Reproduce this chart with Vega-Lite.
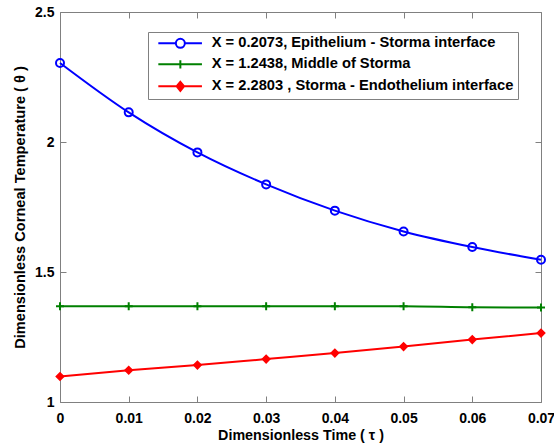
{
  "$schema": "https://vega.github.io/schema/vega-lite/v6.json",
  "width": 481,
  "height": 390,
  "autosize": "none",
  "padding": {"left": 60, "top": 12, "right": 13, "bottom": 46},
  "background": "white",
  "config": {
    "view": {"stroke": null},
    "font": "Liberation Sans",
    "axis": {
      "domainColor": "#808080",
      "tickColor": "#808080",
      "grid": false,
      "labelFont": "Liberation Sans",
      "labelFontSize": 14,
      "labelFontWeight": "bold",
      "labelColor": "black",
      "titleFont": "Liberation Sans",
      "titleFontSize": 14.3,
      "titleFontWeight": "bold",
      "titleColor": "black",
      "tickSize": -6,
      "domainWidth": 1,
      "tickWidth": 1
    }
  },
  "data": {
    "values": [
      {"t": 0.00, "theta": 2.304, "series": "X = 0.2073, Epithelium - Storma interface"},
      {"t": 0.01, "theta": 2.114, "series": "X = 0.2073, Epithelium - Storma interface"},
      {"t": 0.02, "theta": 1.960, "series": "X = 0.2073, Epithelium - Storma interface"},
      {"t": 0.03, "theta": 1.837, "series": "X = 0.2073, Epithelium - Storma interface"},
      {"t": 0.04, "theta": 1.736, "series": "X = 0.2073, Epithelium - Storma interface"},
      {"t": 0.05, "theta": 1.656, "series": "X = 0.2073, Epithelium - Storma interface"},
      {"t": 0.06, "theta": 1.596, "series": "X = 0.2073, Epithelium - Storma interface"},
      {"t": 0.07, "theta": 1.547, "series": "X = 0.2073, Epithelium - Storma interface"},
      {"t": 0.00, "theta": 1.368, "series": "X = 1.2438, Middle of Storma"},
      {"t": 0.01, "theta": 1.368, "series": "X = 1.2438, Middle of Storma"},
      {"t": 0.02, "theta": 1.368, "series": "X = 1.2438, Middle of Storma"},
      {"t": 0.03, "theta": 1.368, "series": "X = 1.2438, Middle of Storma"},
      {"t": 0.04, "theta": 1.368, "series": "X = 1.2438, Middle of Storma"},
      {"t": 0.05, "theta": 1.368, "series": "X = 1.2438, Middle of Storma"},
      {"t": 0.06, "theta": 1.364, "series": "X = 1.2438, Middle of Storma"},
      {"t": 0.07, "theta": 1.363, "series": "X = 1.2438, Middle of Storma"},
      {"t": 0.00, "theta": 1.098, "series": "X = 2.2803 , Storma - Endothelium interface"},
      {"t": 0.01, "theta": 1.122, "series": "X = 2.2803 , Storma - Endothelium interface"},
      {"t": 0.02, "theta": 1.142, "series": "X = 2.2803 , Storma - Endothelium interface"},
      {"t": 0.03, "theta": 1.165, "series": "X = 2.2803 , Storma - Endothelium interface"},
      {"t": 0.04, "theta": 1.188, "series": "X = 2.2803 , Storma - Endothelium interface"},
      {"t": 0.05, "theta": 1.213, "series": "X = 2.2803 , Storma - Endothelium interface"},
      {"t": 0.06, "theta": 1.240, "series": "X = 2.2803 , Storma - Endothelium interface"},
      {"t": 0.07, "theta": 1.265, "series": "X = 2.2803 , Storma - Endothelium interface"}
    ]
  },
  "layer": [
    {
      "mark": {"type": "line", "strokeWidth": 2, "interpolate": "monotone"},
      "encoding": {
        "x": {"field": "t", "type": "quantitative", "scale": {"domain": [0, 0.07], "nice": false, "zero": false},
              "axis": {"orient": "bottom", "values": [0, 0.01, 0.02, 0.03, 0.04, 0.05, 0.06, 0.07], "format": "~g", "labelPadding": 15, "labelFlush": false, "title": "Dimensionless Time ( τ )", "titlePadding": 3}},
        "y": {"field": "theta", "type": "quantitative", "scale": {"domain": [1, 2.5], "nice": false, "zero": false},
              "axis": {"orient": "left", "values": [1, 1.5, 2, 2.5], "format": "~g", "labelPadding": 12, "title": "Dimensionless Corneal Temperature ( θ )", "titleFontSize": 14.6, "titlePadding": 7}},
        "color": {"field": "series", "type": "nominal",
                  "scale": {"domain": ["X = 0.2073, Epithelium - Storma interface", "X = 1.2438, Middle of Storma", "X = 2.2803 , Storma - Endothelium interface"], "range": ["#0000ff", "#008000", "#ff0000"]},
                  "legend": {
                    "orient": "none", "legendX": 88, "legendY": 20, "title": null,
                    "strokeColor": "#808080", "fillColor": "white", "padding": 4,
                    "labelFont": "Liberation Sans", "labelFontWeight": "bold", "labelFontSize": 14.7, "labelColor": "black", "labelLimit": 600,
                    "labelExpr": "datum.label + '\u00a0'",
                    "symbolSize": 144, "rowPadding": 4, "labelOffset": 45, "symbolStrokeWidth": 2,
                    "encode": {
                      "symbols": {
                        "update": {
                          "shape": {"signal": "indexof(datum.value,'Epithelium')>=0 ? 'M-0.17,0H2.75M4.25,0H7.1M2.75,0A0.75,0.75 0 1,1 4.25,0A0.75,0.75 0 1,1 2.75,0Z' : (indexof(datum.value,'Middle')>=0 ? 'M-0.17,0H7.1M3.5,-0.7V0.7' : 'M-0.17,0H7.1M3.5,-0.75L4.12,0L3.5,0.75L2.88,0Z')"},
                          "fill": {"signal": "indexof(datum.value,'Endothelium')>=0 ? '#ff0000' : 'transparent'"},
                          "stroke": {"signal": "indexof(datum.value,'Epithelium')>=0 ? '#0000ff' : (indexof(datum.value,'Middle')>=0 ? '#008000' : '#ff0000')"},
                          "strokeWidth": {"value": 2},
                          "opacity": {"value": 1}
                        }
                      }
                    }
                  }}
      }
    },
    {
      "transform": [{"filter": "indexof(datum.series,'Epithelium')>=0"}],
      "mark": {"type": "point", "shape": "circle", "strokeWidth": 2, "opacity": 1, "size": 64, "stroke": "#0000ff", "fill": "transparent"},
      "encoding": {
        "x": {"field": "t", "type": "quantitative", "axis": null},
        "y": {"field": "theta", "type": "quantitative", "axis": null}
      }
    },
    {
      "transform": [{"filter": "indexof(datum.series,'Middle')>=0"}],
      "mark": {"type": "point", "shape": "M-1,0H1M0,-1V1", "strokeWidth": 2, "opacity": 1, "size": 64, "stroke": "#008000", "fill": "transparent"},
      "encoding": {
        "x": {"field": "t", "type": "quantitative", "axis": null},
        "y": {"field": "theta", "type": "quantitative", "axis": null}
      }
    },
    {
      "transform": [{"filter": "indexof(datum.series,'Endothelium')>=0"}],
      "mark": {"type": "point", "shape": "diamond", "strokeWidth": 1.5, "opacity": 1, "size": 56, "stroke": "#ff0000", "fill": "#ff0000", "filled": true},
      "encoding": {
        "x": {"field": "t", "type": "quantitative", "axis": null},
        "y": {"field": "theta", "type": "quantitative", "axis": null}
      }
    },
    {
      "mark": {"type": "line", "opacity": 0},
      "encoding": {
        "x": {"field": "t", "type": "quantitative", "axis": {"orient": "top", "values": [0, 0.01, 0.02, 0.03, 0.04, 0.05, 0.06, 0.07], "labels": false, "title": null}},
        "y": {"field": "theta", "type": "quantitative", "axis": {"orient": "right", "values": [1, 1.5, 2, 2.5], "labels": false, "title": null}},
        "detail": {"field": "series", "type": "nominal"}
      }
    }
  ],
  "resolve": {"axis": {"x": "independent", "y": "independent"}}
}
